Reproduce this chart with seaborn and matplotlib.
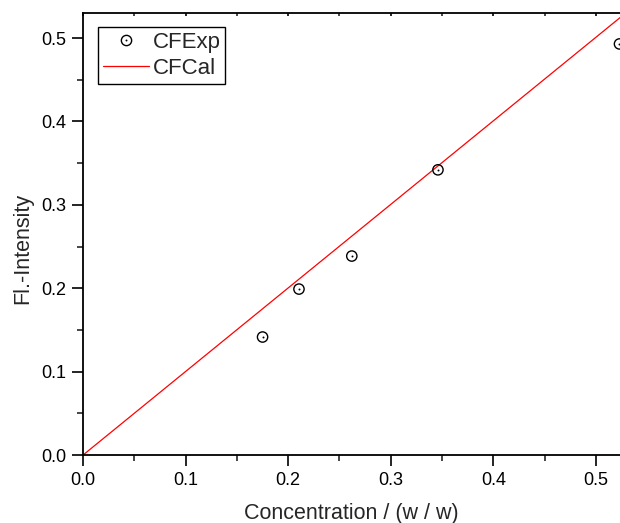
import matplotlib
matplotlib.use("Agg")
import matplotlib.pyplot as plt
import seaborn as sns
import pandas as pd
from matplotlib.ticker import MultipleLocator, FormatStrFormatter
from matplotlib.legend_handler import HandlerTuple
from matplotlib.lines import Line2D

exp_conc = [0.175, 0.2105, 0.262, 0.346, 0.523]
exp_int = [0.1415, 0.199, 0.2386, 0.342, 0.493]
cal_conc = [0.0, 0.53]
cal_int = [0.0, 0.531]

sns.set_theme(style="ticks")
plt.rcParams['font.family'] = ['Liberation Sans', 'DejaVu Sans']

fig = plt.figure(figsize=(6.2, 5.23), dpi=100)
ax = fig.add_axes([0.134, 0.130, 0.866, 0.845])

df_exp = pd.DataFrame({"x": exp_conc, "y": exp_int})
df_cal = pd.DataFrame({"x": cal_conc, "y": cal_int})

sns.lineplot(data=df_cal, x="x", y="y", ax=ax, color="#ff0000", linewidth=0.9, zorder=2)
sns.scatterplot(data=df_exp, x="x", y="y", ax=ax, marker="o", s=55,
                facecolor="none", edgecolor="black", linewidth=1.0, zorder=3)
sns.scatterplot(data=df_exp, x="x", y="y", ax=ax, marker="o", s=2,
                color="black", linewidth=0, zorder=3)

ax.set_xlim(0, 0.5235)
ax.set_ylim(0, 0.53)
ax.xaxis.set_major_locator(MultipleLocator(0.1))
ax.xaxis.set_minor_locator(MultipleLocator(0.05))
ax.yaxis.set_major_locator(MultipleLocator(0.1))
ax.yaxis.set_minor_locator(MultipleLocator(0.05))
ax.xaxis.set_major_formatter(FormatStrFormatter('%.1f'))
ax.yaxis.set_major_formatter(FormatStrFormatter('%.1f'))

for s in ["left", "bottom", "top"]:
    ax.spines[s].set_linewidth(1.3)
    ax.spines[s].set_color("black")
ax.spines["right"].set_visible(False)

ax.tick_params(axis="both", which="major", direction="out", length=8, width=1.2,
               labelsize=13, colors="black", pad=4)
ax.tick_params(axis="both", which="minor", direction="out", length=4, width=1.2)
ax.tick_params(axis="x", which="both", top=True)

# top ticks: small, inward
for t in ax.xaxis.get_major_ticks() + ax.xaxis.get_minor_ticks():
    t.tick2line.set_marker(matplotlib.lines.TICKDOWN)
    t.tick2line.set_markersize(2)

ax.set_xlabel("Concentration / (w / w)", fontsize=15.5, labelpad=10)
ax.set_ylabel("Fl.-Intensity", fontsize=15.5)
ax.yaxis.set_label_coords(-0.093, 0.468)

h_circ = Line2D([], [], marker="o", linestyle="none", markersize=7.4,
                markerfacecolor="none", markeredgecolor="black", markeredgewidth=1.0)
h_dot = Line2D([], [], marker="o", linestyle="none", markersize=1.4,
               markerfacecolor="black", markeredgecolor="none")
h_line = Line2D([], [], color="#ff0000", linewidth=0.9)
leg = ax.legend([(h_circ, h_dot), h_line], ["CFExp", "CFCal"],
                handler_map={tuple: HandlerTuple(ndivide=1)},
                loc="upper left", bbox_to_anchor=(0.028, 0.968), fontsize=16,
                frameon=True, fancybox=False, edgecolor="black", framealpha=1,
                handlelength=2.1, handletextpad=0.15, borderpad=0.2, labelspacing=0.25,
                borderaxespad=0)
leg.get_frame().set_linewidth(1.0)

fig.savefig("out.png", dpi=100)
